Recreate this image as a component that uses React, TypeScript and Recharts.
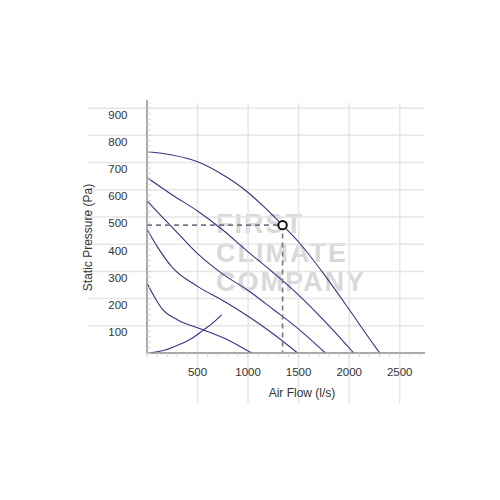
import React from 'react'
import { ComposedChart, Line, Scatter, XAxis, YAxis, CartesianGrid } from 'recharts'

// fan curves: [air flow l/s, static pressure Pa]
const fanCurve1 = [[0, 740], [250, 728], [500, 703], [750, 655], [1000, 590], [1150, 540], [1341, 470], [1500, 408], [1750, 290], [2000, 160], [2190, 58], [2302, 0]]
const fanCurve2 = [[0, 645], [250, 581], [500, 522], [750, 452], [1000, 372], [1250, 295], [1500, 213], [1750, 120], [2045, 0]]
const fanCurve3 = [[0, 560], [100, 520], [250, 462], [500, 365], [750, 290], [1000, 230], [1250, 160], [1500, 88], [1765, 0]]
const fanCurve4 = [[0, 455], [100, 392], [250, 315], [500, 245], [750, 193], [1000, 135], [1250, 70], [1490, 0]]
const fanCurve5 = [[0, 256], [75, 205], [150, 162], [300, 122], [550, 86], [800, 48], [1035, 0]]
const systemCurve = [[0, 0], [150, 8], [300, 28], [450, 55], [556, 84], [650, 110], [738, 140]]
const operatingPoint = [1341, 470]

const xLabels = [500, 1000, 1500, 2000, 2500]
const yLabels = [100, 200, 300, 400, 500, 600, 700, 800, 900]
const xMinorTicks = Array.from({ length: 28 }, (_, i) => i * 100)
const yMinorTicks = Array.from({ length: 47 }, (_, i) => i * 20)

const watermark = ['FIRST', 'CLIMATE', 'COMPANY']

const toPoints = (pairs: number[][]) => pairs.map(([q, p]) => ({ q, p }))

const guideLine = [
  { q: 0, p: operatingPoint[1] },
  { q: operatingPoint[0], p: operatingPoint[1] },
  { q: operatingPoint[0], p: 0 },
]

const FONT = '"Liberation Sans", Arial, sans-serif'
const CURVE = '#34347f'

const XTick = ({ x, y, payload }: any) => {
  const v = payload.value
  return (
    <g>
      <line x1={x} y1={y} x2={x} y2={y + 4} stroke="#d2d2d2" />
      {xLabels.includes(v) && (
        <text x={x} y={y + 19} textAnchor="middle" dominantBaseline="central" fontSize={11.5} fill="#333" fontFamily={FONT}>
          {v}
        </text>
      )}
    </g>
  )
}

const YTick = ({ x, y, payload }: any) => {
  const v = payload.value
  return (
    <g>
      <line x1={x} y1={y} x2={x + 4} y2={y} stroke="#d2d2d2" />
      {yLabels.includes(v) && (
        <text x={x - 19.5} y={y + 6.5} textAnchor="end" dominantBaseline="central" fontSize={11.5} fill="#333" fontFamily={FONT}>
          {v}
        </text>
      )}
    </g>
  )
}

const XTitle = (props: any) => {
  const vb = props.viewBox || { x: 147, y: 353, width: 278 }
  return (
    <text x={vb.x + vb.width / 2 + 16} y={vb.y + 40} textAnchor="middle" dominantBaseline="central" fontSize={12} fill="#333" fontFamily={FONT}>
      Air Flow (l/s)
    </text>
  )
}

const YTitle = (props: any) => {
  const vb = props.viewBox || { x: 0, y: 100, width: 147, height: 253 }
  const cx = vb.x + 88
  const cy = vb.y + vb.height / 2 + 11
  return (
    <text x={cx} y={cy} transform={`rotate(-90, ${cx}, ${cy})`} textAnchor="middle" dominantBaseline="central" fontSize={12} fill="#333" fontFamily={FONT}>
      Static Pressure (Pa)
    </text>
  )
}

const OperatingDot = (props: any) => (
  <circle cx={props.cx} cy={props.cy} r={4.2} fill="#fff" stroke="#111" strokeWidth={2} />
)

export default function App() {
  const curves = [fanCurve1, fanCurve2, fanCurve3, fanCurve4, fanCurve5, systemCurve]
  return (
    <div style={{ position: 'absolute', left: 0, top: 0, width: 500, height: 500, background: '#fff' }}>
      <div
        style={{
          position: 'absolute',
          left: 216,
          top: 210,
          fontFamily: FONT,
          fontWeight: 'bold',
          fontSize: 27,
          lineHeight: '29px',
          letterSpacing: 2,
          color: '#d9d9d9',
        }}
      >
        {watermark.map((w) => (
          <div key={w}>{w}</div>
        ))}
      </div>
      <div style={{ position: 'absolute', left: 0, top: 0 }}>
        <ComposedChart width={500} height={500} margin={{ top: 100, right: 75, bottom: 87, left: 0 }}>
          <CartesianGrid
            x={88}
            y={103}
            width={336}
            height={300}
            horizontalValues={yLabels}
            verticalValues={xLabels}
            stroke="#e6e6e6"
            strokeWidth={1.5}
          />
          <XAxis
            dataKey="q"
            type="number"
            domain={[0, 2750]}
            ticks={xMinorTicks}
            interval={0}
            tick={<XTick />}
            tickLine={false}
            tickSize={0}
            tickMargin={0}
            height={60}
            axisLine={{ stroke: '#8c8c8c', strokeWidth: 1.5 }}
            label={XTitle}
            allowDataOverflow
          />
          <YAxis
            type="number"
            domain={[0, 930]}
            ticks={yMinorTicks}
            interval={0}
            tick={<YTick />}
            tickLine={false}
            tickSize={0}
            tickMargin={0}
            width={147}
            axisLine={{ stroke: '#8c8c8c', strokeWidth: 1.5 }}
            label={YTitle}
            allowDataOverflow
          />
          {curves.map((c, i) => (
            <Line
              key={i}
              data={toPoints(c)}
              dataKey="p"
              type="monotone"
              stroke={CURVE}
              strokeWidth={1.1}
              dot={false}
              isAnimationActive={false}
            />
          ))}
          <Line
            data={guideLine}
            dataKey="p"
            type="linear"
            stroke="#75758a"
            strokeWidth={1.6}
            strokeDasharray="5 4"
            dot={false}
            isAnimationActive={false}
          />
          <Scatter
            data={[{ q: operatingPoint[0], p: operatingPoint[1] }]}
            dataKey="p"
            shape={OperatingDot}
            isAnimationActive={false}
          />
        </ComposedChart>
      </div>
    </div>
  )
}
